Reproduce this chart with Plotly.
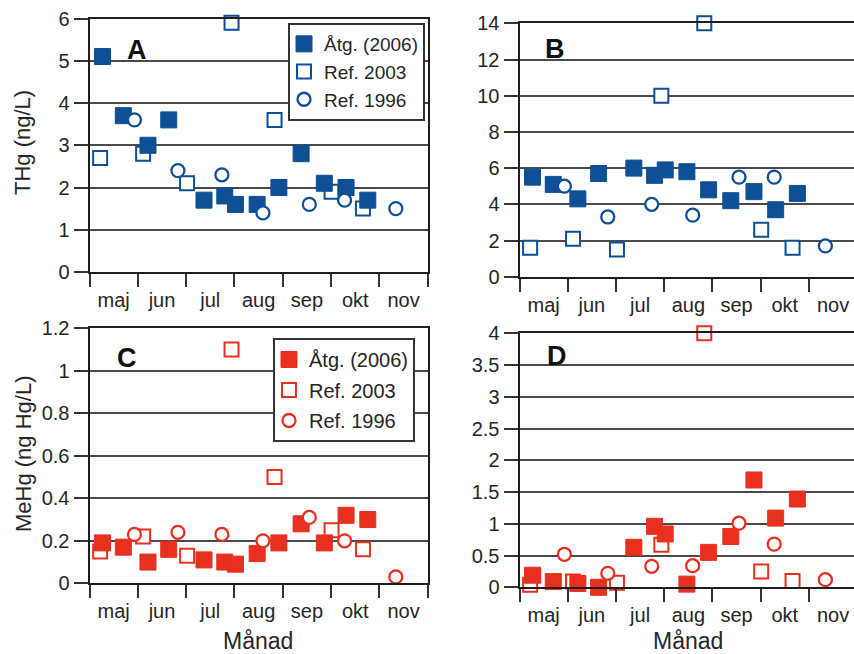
import plotly.graph_objects as go

# ---------------- data ----------------
months = ["maj", "jun", "jul", "aug", "sep", "okt", "nov"]
month_centers = [0.5, 1.5, 2.5, 3.5, 4.5, 5.5, 6.5]

# sampling positions in months after 1 May
x_atg = [0.27, 0.70, 1.21, 1.64, 2.37, 2.80, 3.02, 3.47, 3.92, 4.38, 4.86, 5.31, 5.76]
x_ref03 = [0.22, 1.11, 2.02, 2.94, 3.83, 5.01, 5.66]
x_ref96 = [0.93, 1.83, 2.74, 3.59, 4.55, 5.28, 6.34]

thg_A_atg = [5.1, 3.7, 3.0, 3.6, 1.7, 1.8, 1.6, 1.6, 2.0, 2.8, 2.1, 2.0, 1.7]
thg_A_ref03 = [2.7, 2.8, 2.1, 5.9, 3.6, 1.9, 1.5]
thg_A_ref96 = [3.6, 2.4, 2.3, 1.4, 1.6, 1.7, 1.5]

thg_B_atg = [5.5, 5.1, 4.3, 5.7, 6.0, 5.6, 5.9, 5.8, 4.8, 4.2, 4.7, 3.7, 4.6]
thg_B_ref03 = [1.6, 2.1, 1.5, 10.0, 14.0, 2.6, 1.6]
thg_B_ref96 = [5.0, 3.3, 4.0, 3.4, 5.5, 5.5, 1.7]

mehg_C_atg = [0.19, 0.17, 0.10, 0.16, 0.11, 0.10, 0.09, 0.14, 0.19, 0.28, 0.19, 0.32, 0.30]
mehg_C_ref03 = [0.15, 0.22, 0.13, 1.10, 0.50, 0.25, 0.16]
mehg_C_ref96 = [0.23, 0.24, 0.23, 0.20, 0.31, 0.20, 0.03]

mehg_D_atg = [0.19, 0.09, 0.06, 0.0, 0.63, 0.96, 0.84, 0.05, 0.55, 0.80, 1.69, 1.09, 1.39]
mehg_D_ref03 = [0.04, 0.09, 0.07, 0.67, 4.0, 0.25, 0.10]
mehg_D_ref96 = [0.52, 0.22, 0.33, 0.34, 1.01, 0.68, 0.12]

yticks_A = [0, 1, 2, 3, 4, 5, 6]
yticks_B = [0, 2, 4, 6, 8, 10, 12, 14]
yticks_C = [0, 0.2, 0.4, 0.6, 0.8, 1.0, 1.2]
yticks_C_text = ["0", "0.2", "0.4", "0.6", "0.8", "1", "1.2"]
yticks_D = [0, 0.5, 1, 1.5, 2, 2.5, 3, 3.5, 4]
yticks_D_text = ["0", "0.5", "1", "1.5", "2", "2.5", "3", "3.5", "4"]

names = ["Åtg. (2006)", "Ref. 2003", "Ref. 1996"]

# ---------------- styling ----------------
BLUE = "#0e4f95"
RED = "#e8301f"
FONT = "Liberation Sans, Arial, Helvetica, sans-serif"
TXT = "#262626"
GRID = "#4a4a4a"
FRAME = "#1e1e1e"

W, H = 854, 654


def px_x(p):
    return p / W


def px_y(p):
    return 1 - p / H


fig = go.Figure()


def add_panel(n, color, atg, ref03, ref96, legend):
    xa = "x" if n == 1 else f"x{n}"
    ya = "y" if n == 1 else f"y{n}"
    show = legend is not None
    lg = legend if legend else "legend"
    # open squares (drawn first)
    fig.add_trace(go.Scatter(
        x=x_ref03, y=ref03, mode="markers", name=names[1], xaxis=xa, yaxis=ya,
        marker=dict(symbol="square", size=14, color="white",
                    line=dict(color=color, width=2)),
        cliponaxis=False, showlegend=show, legend=lg, legendrank=2,
        legendgroup=f"g2_{n}"))
    # filled squares
    fig.add_trace(go.Scatter(
        x=x_atg, y=atg, mode="markers", name=names[0], xaxis=xa, yaxis=ya,
        marker=dict(symbol="square", size=16, color=color,
                    line=dict(color=color, width=1)),
        cliponaxis=False, showlegend=show, legend=lg, legendrank=1,
        legendgroup=f"g1_{n}"))
    # open circles (on top)
    fig.add_trace(go.Scatter(
        x=x_ref96, y=ref96, mode="markers", name=names[2], xaxis=xa, yaxis=ya,
        marker=dict(symbol="circle", size=13, color="white",
                    line=dict(color=color, width=2.3)),
        cliponaxis=False, showlegend=show, legend=lg, legendrank=3,
        legendgroup=f"g3_{n}"))


add_panel(1, BLUE, thg_A_atg, thg_A_ref03, thg_A_ref96, "legend")
add_panel(2, BLUE, thg_B_atg, thg_B_ref03, thg_B_ref96, None)
add_panel(3, RED, mehg_C_atg, mehg_C_ref03, mehg_C_ref96, "legend2")
add_panel(4, RED, mehg_D_atg, mehg_D_ref03, mehg_D_ref96, None)

# panel geometry in pixels
left_l, right_l = 89.5, 427.7
left_r, right_r = 519.5, 854.0
tick_step_r = (857.7 - 520.0) / 7.0
xmax_r = (right_r - left_r) / tick_step_r


def xaxis(domain, xmax, anchor):
    return dict(
        domain=domain, range=[0, xmax], anchor=anchor, automargin=False,
        tickmode="array", tickvals=month_centers, ticktext=months,
        ticks="outside", ticklen=9, tickcolor="rgba(0,0,0,0)",
        tickfont=dict(family=FONT, size=20, color=TXT),
        showgrid=False, zeroline=False,
        showline=True, linecolor=FRAME, linewidth=2, mirror=True,
        minor=dict(tickmode="linear", tick0=0, dtick=1, ticks="outside",
                   ticklen=13, tickwidth=1.5, tickcolor="#333333", showgrid=False),
        fixedrange=True,
    )


def yaxis(domain, rng, vals, text, mirror, anchor):
    return dict(
        domain=domain, range=rng, anchor=anchor, automargin=False,
        tickmode="array", tickvals=vals, ticktext=text,
        ticks="outside", ticklen=14, tickwidth=1.5, tickcolor="#333333",
        tickfont=dict(family=FONT, size=20, color=TXT),
        showgrid=True, gridcolor=GRID, gridwidth=1.5, zeroline=False,
        showline=True, linecolor=FRAME, linewidth=2, mirror=mirror,
        fixedrange=True,
    )


xa1 = xaxis([px_x(left_l), px_x(right_l)], 7, "y")
xa2 = xaxis([px_x(left_r), 1.0], xmax_r, "y2")
xa3 = xaxis([px_x(left_l), px_x(right_l)], 7, "y3")
xa4 = xaxis([px_x(left_r), 1.0], xmax_r, "y4")

ya1 = yaxis([px_y(272.0), px_y(18.5)], [0, 6], yticks_A, [str(v) for v in yticks_A], True, "x")
ya2 = yaxis([px_y(276.7), px_y(23.3)], [0, 14], yticks_B, [str(v) for v in yticks_B], False, "x2")
ya3 = yaxis([px_y(583.3), px_y(328.3)], [0, 1.2], yticks_C, yticks_C_text, True, "x3")
ya4 = yaxis([px_y(587.3), px_y(333.3)], [0, 4], yticks_D, yticks_D_text, False, "x4")

legend_common = dict(
    bgcolor="white", bordercolor="#333333", borderwidth=2,
    xanchor="left", yanchor="top", traceorder="grouped",
    indentation=-6, itemclick=False, itemdoubleclick=False,
)

annotations = []


def ann(text, x, y, size, bold=False, angle=0):
    annotations.append(dict(
        text=f"<b>{text}</b>" if bold else text, x=px_x(x), y=px_y(y),
        xref="paper", yref="paper", showarrow=False, textangle=angle,
        xanchor="center", yanchor="middle",
        font=dict(family=FONT, size=size, color="#111111" if bold else TXT)))


ann("A", 137, 50, 27, bold=True)
ann("B", 555, 49, 27, bold=True)
ann("C", 127, 358, 27, bold=True)
ann("D", 557, 356, 27, bold=True)
ann("THg (ng/L)", 22, 143, 22, angle=-90)
ann("MeHg (ng Hg/L)", 23, 454, 22, angle=-90)
ann("Månad", 258, 641, 23)
ann("Månad", 688, 641, 23)

fig.update_layout(
    width=W, height=H, margin=dict(l=0, r=0, t=0, b=0, autoexpand=False),
    paper_bgcolor="white", plot_bgcolor="white",
    xaxis=xa1, xaxis2=xa2, xaxis3=xa3, xaxis4=xa4,
    yaxis=ya1, yaxis2=ya2, yaxis3=ya3, yaxis4=ya4,
    legend=dict(x=px_x(288), y=px_y(23), tracegroupgap=0,
                font=dict(family=FONT, size=19, color=TXT), **legend_common),
    legend2=dict(x=px_x(273), y=px_y(338), tracegroupgap=1.5,
                 font=dict(family=FONT, size=20, color=TXT), **legend_common),
    annotations=annotations,
    showlegend=True,
)

fig.write_html("out.html", config={"displayModeBar": False})
